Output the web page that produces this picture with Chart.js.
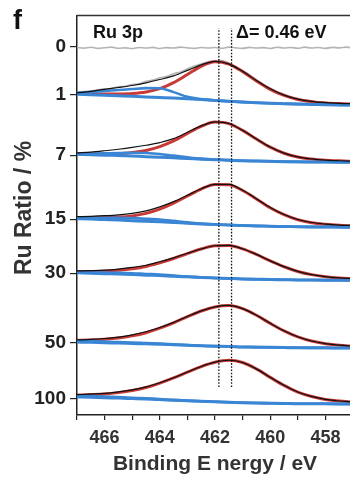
<!DOCTYPE html>
<html>
<head>
<meta charset="utf-8">
<script src="https://cdn.jsdelivr.net/npm/chart.js@4.4.1/dist/chart.umd.min.js"></script>
<style>
  html, body { margin: 0; padding: 0; background: #fff; overflow: hidden; }
  #wrap { width: 360px; height: 477px; }
</style>
</head>
<body>
<div id="wrap"><canvas id="myChart" width="360" height="477"></canvas></div>
<script>
/*
  Ru 3p spectra stacked by Ru ratio. Every curve is given as the height
  above its own baseline (offset).
*/

// binding energy grid for the fitted curves (eV)
const energies = [467, 466.5, 466, 465.5, 465, 464.5, 464, 463.5, 463, 462.5, 462,
  461.5, 461, 460.5, 460, 459.5, 459, 458.5, 458, 457.5, 457];

// finer grid for the raw data traces
const rawEnergies = [467, 466.75, 466.5, 466.25, 466, 465.75, 465.5, 465.25, 465, 464.75,
  464.5, 464.25, 464, 463.75, 463.5, 463.25, 463, 462.75, 462.5, 462.25, 462, 461.75,
  461.5, 461.25, 461, 460.75, 460.5, 460.25, 460, 459.75, 459.5, 459.25, 459, 458.75,
  458.5, 458.25, 458, 457.75, 457.5, 457.25, 457];

// y tick labels (Ru ratio) and the offset of each trace
const ratioLabels = ["0", "1", "7", "15", "30", "50", "100"];
const offsets = [369, 321, 260, 196, 142, 72, 16];

// peak positions marked by the dotted lines (eV) and their vertical extent
const markerEnergies = [461.86, 461.40];
const markerSpan = [28, 387];

// 0 % : raw trace only
const raw0 = [-1.1, -1.8, -0.9, -2.0, -1.4, -0.8, -1.9, -1.5, -2.2, -1.1, -1.7, -1.0, -2.1,
  -1.3, -1.7, -0.8, -1.5, -2.0, -1.1, -1.6, -1.2, -1.9, -0.8, -1.5, -2.0, -1.0, -1.7,
  -1.3, -2.1, -0.9, -1.6, -1.1, -1.9, -0.8, -1.7, -1.2, -2.0, -1.0, -1.5, -0.8, -1.6];

// 1 %
const raw1 = [2.0, 2.9, 3.2, 4.6, 5.5, 5.9, 7.6, 8.1, 9.9, 10.5, 13.0, 14.2, 16.5, 17.8,
  20.6, 22.4, 25.5, 28.3, 30.4, 32.6, 33.4, 33.9, 31.2, 28.0, 23.6, 19.5, 14.6, 9.8, 6.3,
  2.4, 0.1, -2.6, -4.2, -5.9, -6.6, -7.9, -8.0, -9.0, -8.7, -9.6, -9.3];
const bg1 = [0, -0.5, -1, -1.5, -2, -2.6, -3.2, -3.8, -4.5, -5.3, -6.2, -7, -7.8, -8.5,
  -9, -9.4, -9.8, -10.1, -10.4, -10.6, -10.8];
const comp1 = [1.5, 2.3, 3.3, 4.3, 5.3, 6.2, 6.1, 2.2, -2.5, -4.8, -6.1, -7, -7.8, -8.5,
  -9, -9.4, -9.8, -10.1, -10.4, -10.6, -10.8];
const peak1 = [0.9, 0.5, 0.2, 0.3, 0.8, 2.3, 5.7, 11.7, 19.8, 28.0, 32.5, 30.2, 22.7,
  13.4, 5.0, -1.1, -5.1, -7.3, -8.6, -9.3, -9.7];
const env1 = [1.5, 3, 5, 6.8, 8.8, 11.5, 14.8, 18.5, 24, 29.5, 33, 30.5, 23, 13.8, 5.5,
  -0.8, -4.8, -7.1, -8.4, -9.1, -9.5];

// 7 %
const bg7 = [1, 0.6, 0.1, -0.3, -0.8, -1.4, -1.9, -2.6, -3.2, -3.9, -4.4, -4.9, -5.5,
  -5.8, -6.1, -6.4, -6.6, -6.7, -6.8, -6.9, -7.0];
const comp7 = [1.3, 1.6, 1.9, 2.3, 2.5, 2.2, 1.3, -0.4, -2.0, -3.4, -4.3, -4.9, -5.5,
  -5.8, -6.1, -6.4, -6.6, -6.7, -6.8, -6.9, -7.0];
const peak7 = [1.5, 1.3, 1.3, 1.6, 2.7, 4.8, 8.7, 14.4, 21.8, 28.9, 33.2, 31.7, 24.9,
  16.2, 8.1, 2.0, -1.8, -3.8, -5.0, -5.6, -6.0];
const env7 = [2.4, 3.2, 4.5, 6.0, 7.8, 10.0, 12.7, 16.6, 23.0, 29.4, 33.4, 31.8, 25.0,
  16.3, 8.2, 2.1, -1.7, -3.7, -4.9, -5.5, -5.9];

// 15 %
const bg15 = [0.5, 0.1, -0.4, -0.9, -1.5, -2.1, -2.6, -3.3, -4.0, -4.7, -5.3, -5.8, -6.4,
  -6.7, -7.1, -7.3, -7.6, -7.7, -7.7, -7.9, -8.0];
const comp15 = [1.3, 1.4, 1.4, 1.4, 1.1, 0.5, -0.3, -1.7, -3.2, -4.4, -5.3, -5.8, -6.4,
  -6.7, -7.1, -7.3, -7.6, -7.7, -7.7, -7.9, -8.0];
const peak15 = [1.7, 1.6, 1.7, 2.1, 3.3, 5.8, 10.1, 16.0, 23.2, 30.2, 34.8, 34.6, 28.7,
  20.3, 11.5, 4.5, -0.5, -3.5, -5.1, -6.1, -6.6];
const env15 = [2.5, 2.9, 3.5, 4.4, 5.9, 8.4, 12.4, 17.6, 24.0, 30.5, 34.9, 34.8, 28.9,
  20.5, 11.7, 4.7, -0.3, -3.3, -4.9, -5.9, -6.4];

// 30 %
const bg30 = [0.3, -0.1, -0.5, -0.9, -1.4, -2.0, -2.4, -3.1, -3.7, -4.3, -4.8, -5.3, -5.8,
  -6.1, -6.4, -6.6, -6.8, -6.9, -7.0, -7.1, -7.2];
const comp30 = [0.8, 0.7, 0.5, 0.3, -0.1, -0.8, -1.4, -2.5, -3.4, -4.3, -4.8, -5.3, -5.8,
  -6.1, -6.4, -6.6, -6.8, -6.9, -7.0, -7.1, -7.2];
const peak30 = [1.7, 1.7, 2.0, 2.9, 4.4, 6.7, 10.4, 14.7, 19.6, 24.2, 27.3, 27.6, 24.3,
  18.7, 12.2, 6.4, 1.7, -1.5, -3.6, -4.9, -5.6];
const env30 = [2.2, 2.5, 3.0, 4.1, 5.7, 7.9, 11.4, 15.3, 19.9, 24.2, 27.4, 27.7, 24.4,
  18.8, 12.3, 6.5, 1.8, -1.4, -3.5, -4.8, -5.5];

// 50 %
const bg50 = [1.0, 0.7, 0.3, 0.0, -0.4, -0.8, -1.2, -1.7, -2.2, -2.7, -3.1, -3.4, -3.9,
  -4.1, -4.3, -4.5, -4.7, -4.8, -4.8, -4.9, -5.0];
const comp50 = [2.3, 1.9, 1.4, 1.0, 0.6, 0.1, -0.5, -1.3, -2.0, -2.7, -3.1, -3.4, -3.9,
  -4.1, -4.3, -4.5, -4.7, -4.8, -4.8, -4.9, -5.0];
const peak50 = [2.8, 3.2, 3.8, 5.0, 7.2, 10.4, 14.9, 20.3, 26.4, 32.1, 36.2, 37.6, 34.4,
  27.8, 19.7, 12.2, 6.2, 2.0, -0.6, -2.2, -3.1];
const env50 = [3.1, 3.7, 4.6, 6.0, 8.2, 11.3, 15.6, 20.7, 26.6, 32.2, 36.3, 37.7, 34.5,
  27.9, 19.8, 12.3, 6.3, 2.1, -0.5, -2.1, -3.0];

// 100 %
const bg100 = [2.0, 1.7, 1.2, 0.9, 0.4, -0.1, -0.5, -1.2, -1.7, -2.3, -2.8, -3.2, -3.7,
  -4.0, -4.2, -4.4, -4.7, -4.7, -4.8, -4.9, -5.0];
const comp100 = [3.5, 3.1, 2.5, 2.0, 1.3, 0.6, 0.0, -0.9, -1.6, -2.3, -2.8, -3.2, -3.7,
  -4.0, -4.2, -4.4, -4.7, -4.7, -4.8, -4.9, -5.0];
const peak100 = [4.0, 4.4, 5.0, 6.4, 8.5, 11.5, 15.9, 21.1, 26.9, 32.5, 36.8, 38.7, 36.5,
  30.1, 21.7, 13.6, 6.9, 2.5, -0.4, -2.1, -3.1];
const env100 = [4.3, 4.9, 5.6, 7.1, 9.2, 12.1, 16.3, 21.3, 27.0, 32.6, 36.9, 38.8, 36.6,
  30.2, 21.8, 13.7, 7.0, 2.6, -0.3, -2.0, -3.0];

const rows = [
  { off: offsets[1], raw: raw1, bg: bg1, comp: comp1, peak: peak1, env: env1 },
  { off: offsets[2], bg: bg7, comp: comp7, peak: peak7, env: env7 },
  { off: offsets[3], bg: bg15, comp: comp15, peak: peak15, env: env15 },
  { off: offsets[4], bg: bg30, comp: comp30, peak: peak30, env: env30 },
  { off: offsets[5], bg: bg50, comp: comp50, peak: peak50, env: env50 },
  { off: offsets[6], bg: bg100, comp: comp100, peak: peak100, env: env100 },
];

const RED = "#c83a36";
const BLUE = "#3a86d4";
const GREY = "#b4b4b4";
const FONT = "'Liberation Sans', Arial, sans-serif";

// shift a trace onto its baseline
function place(xs, values, off) {
  return values.map((v, i) => ({ x: xs[i], y: off + v }));
}

function lineSet(data, color, width, order) {
  return {
    data: data,
    borderColor: color,
    borderWidth: width,
    pointRadius: 0,
    fill: false,
    cubicInterpolationMode: "monotone",
    order: order,
  };
}

const datasets = [];
datasets.push(lineSet(place(rawEnergies, raw0, offsets[0]), GREY, 1.6, 5));
rows.forEach(function (r) {
  if (r.raw) datasets.push(lineSet(place(rawEnergies, r.raw, r.off), GREY, 1.6, 5));
  datasets.push(lineSet(place(energies, r.peak, r.off), RED, 3, 4));
  datasets.push(lineSet(place(energies, r.bg, r.off), BLUE, 3, 3));
  datasets.push(lineSet(place(energies, r.comp, r.off), BLUE, 2.6, 3));
  datasets.push(lineSet(place(energies, r.env, r.off), "#111", 1.2, 2));
});
markerEnergies.forEach(function (e) {
  const d = lineSet([{ x: e, y: markerSpan[0] }, { x: e, y: markerSpan[1] }], "#111", 1.3, 1);
  d.borderDash = [1.6, 1.6];
  d.cubicInterpolationMode = "default";
  datasets.push(d);
});

// frame top line plus the free text of the figure
const annotations = {
  id: "annotations",
  afterDraw(chart) {
    const ctx = chart.ctx;
    const area = chart.chartArea;
    ctx.save();
    ctx.strokeStyle = "#333";
    ctx.lineWidth = 1.5;
    ctx.beginPath();
    ctx.moveTo(area.left, area.top);
    ctx.lineTo(area.right + 10, area.top);
    ctx.stroke();

    ctx.fillStyle = "#111";
    ctx.textBaseline = "alphabetic";
    ctx.textAlign = "left";
    ctx.font = "bold 27px " + FONT;
    ctx.fillText("f", 13, 29);
    ctx.font = "bold 18px " + FONT;
    ctx.fillText("Ru 3p", 93, 38);
    ctx.fillText("\u0394= 0.46 eV", 236, 38);

    ctx.fillStyle = "#333";
    ctx.textAlign = "center";
    ctx.font = "bold 21px " + FONT;
    ctx.fillText("Binding E nergy / eV", 215, 470);

    ctx.translate(31, 208);
    ctx.rotate(-Math.PI / 2);
    ctx.font = "bold 23px " + FONT;
    ctx.fillText("Ru Ratio / %", 0, 0);
    ctx.restore();
  },
};

const config = {
  type: "line",
  data: { datasets: datasets },
  options: {
    responsive: false,
    animation: false,
    devicePixelRatio: 1,
    layout: { padding: { top: 15, right: 7, left: 0, bottom: 0 } },
    plugins: { legend: { display: false }, tooltip: { enabled: false } },
    scales: {
      x: {
        type: "linear",
        min: 457,
        max: 467,
        reverse: true,
        afterFit: function (scale) { scale.height = 62; },
        border: { display: true, color: "#222", width: 1.5 },
        grid: { drawOnChartArea: false, drawTicks: true, tickLength: 5, color: "#222", lineWidth: 1.2 },
        ticks: {
          stepSize: 1,
          autoSkip: false,
          maxRotation: 0,
          padding: 7,
          color: "#333",
          font: { family: FONT, size: 18, weight: "bold" },
          callback: function (v) { return v % 2 === 0 ? String(v) : ""; },
        },
      },
      y: {
        type: "linear",
        min: 0,
        max: 400,
        afterFit: function (scale) { scale.width = 77; },
        afterBuildTicks: function (scale) {
          scale.ticks = offsets.map(function (v) { return { value: v }; });
        },
        border: { display: true, color: "#222", width: 1.5 },
        grid: { drawOnChartArea: false, drawTicks: true, tickLength: 7, color: "#222", lineWidth: 1.2 },
        ticks: {
          padding: 4,
          color: "#222",
          font: { family: FONT, size: 19, weight: "bold" },
          callback: function (v) { return ratioLabels[offsets.indexOf(v)]; },
        },
      },
    },
  },
  plugins: [annotations],
};

new Chart(document.getElementById("myChart"), config);
</script>
</body>
</html>
